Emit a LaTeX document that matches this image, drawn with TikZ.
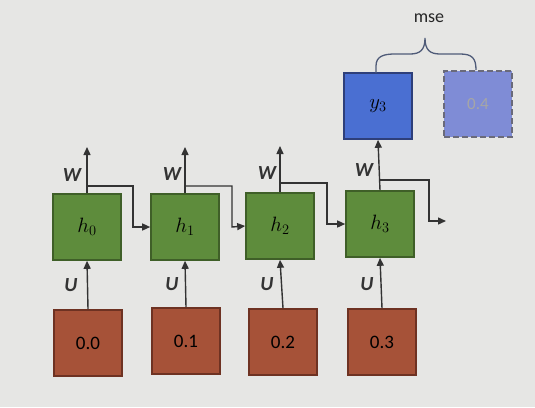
\documentclass[tikz,border=0pt]{standalone}
\usepackage{fontspec}
\setsansfont{Carlito}
\usetikzlibrary{arrows.meta}
\definecolor{bg}{HTML}{E6E6E4}
\definecolor{hfill}{HTML}{5E8C3C}
\definecolor{hdraw}{HTML}{3F5F28}
\definecolor{xfill}{HTML}{A65238}
\definecolor{xdraw}{HTML}{6E3222}
\definecolor{yfill}{HTML}{4A6FD2}
\definecolor{ydraw}{HTML}{2E3F7A}
\definecolor{tfill}{HTML}{7F8CD6}
\definecolor{tdraw}{HTML}{6A6A7A}
\definecolor{ln}{HTML}{333333}
\definecolor{brc}{HTML}{4F5B78}
\tikzset{
  cell/.style={minimum width=68pt, minimum height=66pt, line width=1.6pt, inner sep=0pt},
  hbox/.style={cell, fill=hfill, draw=hdraw, text=black, font=\fontsize{20}{22}\selectfont},
  xbox/.style={cell, fill=xfill, draw=xdraw, text=black, font=\sffamily\fontsize{19}{22}\selectfont},
  ybox/.style={cell, fill=yfill, draw=ydraw, text=black, font=\fontsize{20}{22}\selectfont},
  tbox/.style={cell, fill=tfill, draw=tdraw, dashed, dash pattern=on 6pt off 3pt, text=gray!70, font=\sffamily\fontsize{17}{20}\selectfont},
  conn/.style={draw=ln, line width=1.4pt, -{Triangle[length=8pt,width=7pt]}},
  lbl/.style={font=\sffamily\bfseries\itshape\fontsize{20}{22}\selectfont, text=black!80},
}
\begin{document}
\begin{tikzpicture}[x=1pt,y=-1pt]
\fill[bg] (0,0) rectangle (535,407);
\useasboundingbox (0,0) rectangle (535,407);
% hidden states
\node[hbox] (h0) at (87,227) {$h_0$};
\node[hbox] (h1) at (185,227) {$h_1$};
\node[hbox] (h2) at (280,226) {$h_2$};
\node[hbox] (h3) at (380,224) {$h_3$};
% inputs
\node[xbox] (b0) at (88,343) {0.0};
\node[xbox] (b1) at (186,341) {0.1};
\node[xbox] (b2) at (283,342) {0.2};
\node[xbox] (b3) at (382,342) {0.3};
% output and target
\node[ybox] (y3) at (378,106) {$y_3$};
\node[tbox] (t) at (478,104) {0.4};
\node[font=\sffamily\fontsize{18}{20}\selectfont, text=black!85] (mse) at (429,18) {mse};
% U arrows
\foreach \i in {0,1,2,3} {
  \draw[conn] (b\i.north) -- (h\i.south);
}
\node[lbl] (u0) at (71,285) {U};
\node[lbl] (u1) at (172,284) {U};
\node[lbl] (u2) at (267,284) {U};
\node[lbl] (u3) at (367,284) {U};
% W arrows up
\coordinate (w0) at (87,147);
\coordinate (w1) at (185,147);
\coordinate (w2) at (280,146);
\draw[conn] (h0.north) -- (w0);
\draw[conn] (h1.north) -- (w1);
\draw[conn] (h2.north) -- (w2);
\draw[conn] (h3.north) -- (y3.south);
\node[lbl] (wl0) at (72,175) {W};
\node[lbl] (wl1) at (172,174) {W};
\node[lbl] (wl2) at (267,173) {W};
\node[lbl] (wl3) at (364,170) {W};
% recurrent connections
\coordinate (out3) at (446,221);
\draw[conn] (87,186) -| (133,227) -- (h1.west);
\draw[conn] (185,186) -| (232,227) -- (h2.west);
\draw[conn] (280,183) -| (327,224) -- (h3.west);
\draw[conn] (380,180) -| (429,221) -- (out3);
% brace
\draw[brc, line width=1.3pt] (376,73) -- (376,66)
  .. controls (376,56) and (384,54) .. (395,54)
  -- (410,54) .. controls (420,54) and (425,50) .. (425,38)
  .. controls (425,50) and (430,54) .. (440,54)
  -- (460,54) .. controls (472,54) and (476,58) .. (476,70);
\end{tikzpicture}
\end{document}
